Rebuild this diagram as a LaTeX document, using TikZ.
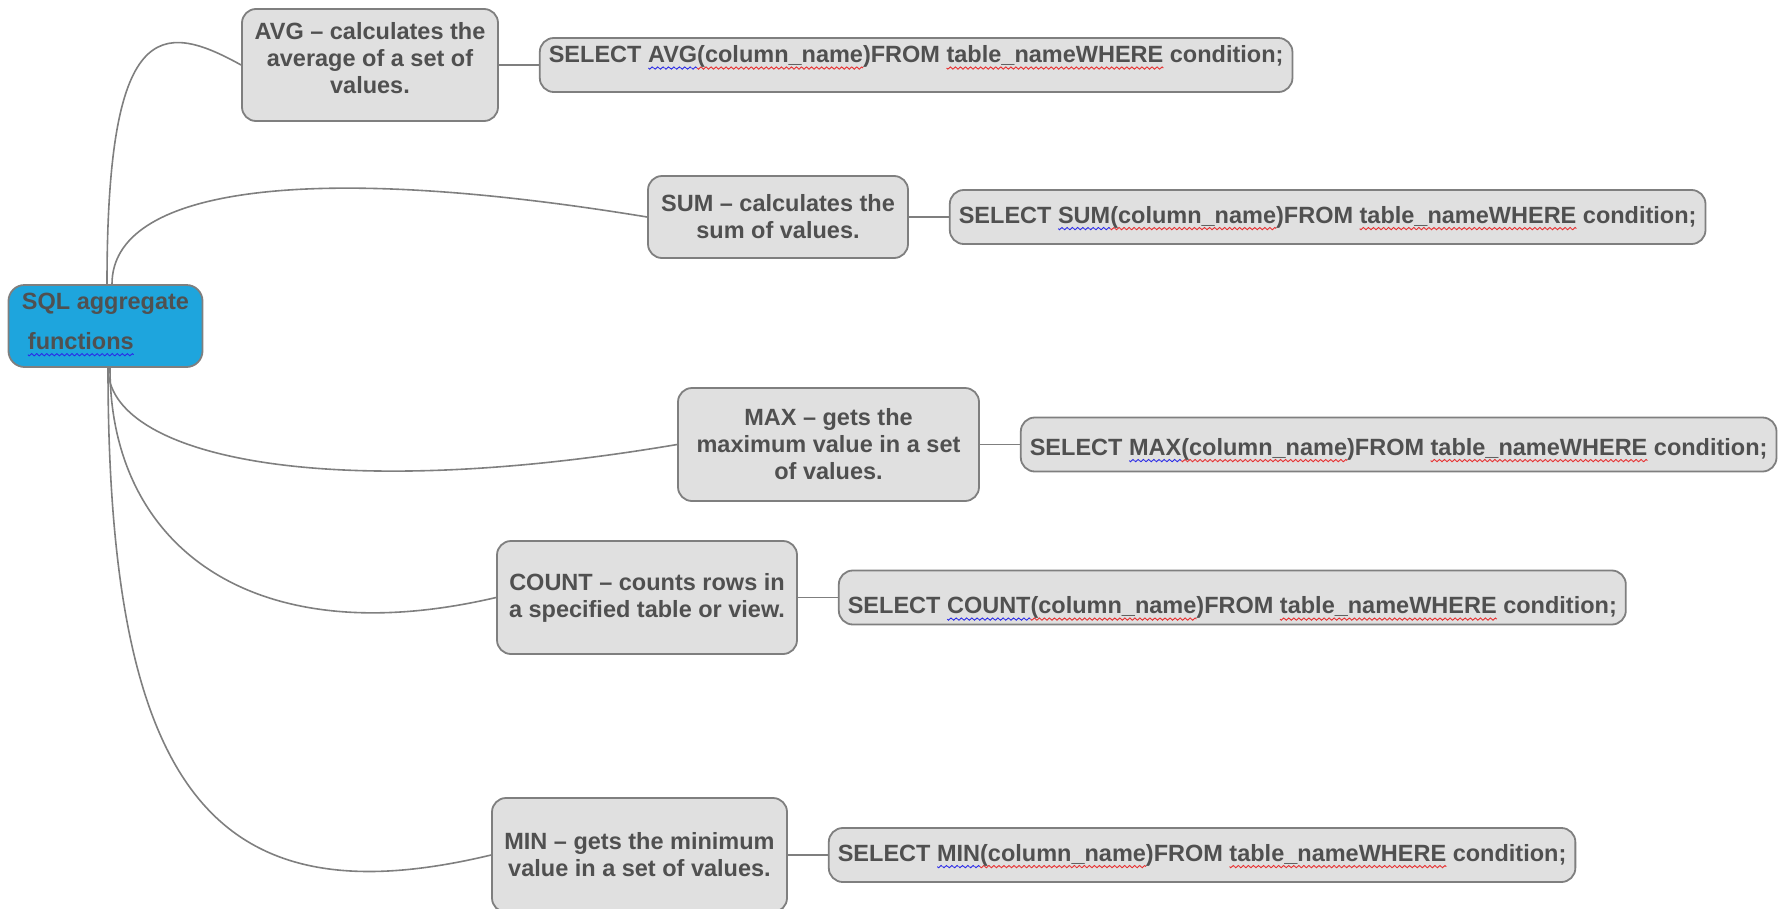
\documentclass[tikz,border=0pt]{standalone}
\usepackage{fontspec}
\setmainfont{Liberation Sans}
\usepackage{xcolor}
\usepackage{tikz}
\usetikzlibrary{positioning}

\definecolor{rootblue}{HTML}{1EA5DD}
\definecolor{boxgray}{HTML}{E0E0E0}
\definecolor{edgegray}{HTML}{7F7F7F}
\definecolor{inkgray}{HTML}{505050}

% wavy underline under a word (one wave drawn per leader box)
\newsavebox\wordbox
\newcommand\wavy[2]{\sbox\wordbox{#2}\rlap{\hbox to \wd\wordbox{\xleaders\hbox to 5bp{%
\special{pdf:literal q 0.9 w #1 RG 0 -5.5 m 1.25 -7 1.25 -7 2.5 -5.5 c
3.75 -4 3.75 -4 5 -5.5 c S Q}\hfil}\hfill}}\usebox\wordbox}
\newcommand\bwave[1]{\wavy{0.17 0.17 0.91}{#1}}
\newcommand\rwave[1]{\wavy{0.91 0.19 0.19}{#1}}

\begin{document}
\begin{tikzpicture}[x=1pt,y=-1pt,
topic/.style={draw=edgegray, line width=1.8pt, fill=rootblue, rounded corners=16pt,
align=left, text=inkgray, font=\fontsize{23.5}{27}\selectfont\bfseries},
    func/.style={draw=edgegray, line width=1.8pt, fill=boxgray, rounded corners=14pt,
align=center, text=inkgray, font=\fontsize{23.5}{27}\selectfont\bfseries},
    query/.style={func, align=left, minimum height=54pt, inner xsep=9pt,
node distance=40pt},
    branch/.style={draw=edgegray, line width=1.6pt}]
\useasboundingbox (0,0) rectangle (1780,908);
\node[topic, minimum width=194pt, minimum height=82pt] (root) at (105.5,326)
{SQL aggregate\\[13pt]\hspace*{6pt}\bwave{functions}\\[-17pt]\mbox{}};
\node[func, minimum width=256pt, minimum height=112pt] (avg) at (370,65)
{AVG – calculates the\\average of a set of\\values.\\[-12pt]\mbox{}};
\node[func, minimum width=260pt, minimum height=82pt] (sum) at (778,217)
{SUM – calculates the\\sum of values.};
\node[func, minimum width=301pt, minimum height=113pt] (max) at (828.5,444.5)
{MAX – gets the\\maximum value in a set\\of values.};
\node[func, minimum width=300pt, minimum height=113pt] (count) at (647,597.5)
{COUNT – counts rows in\\a specified table or view.};
\node[func, minimum width=295pt, minimum height=114pt] (min) at (639.5,855)
{MIN – gets the minimum\\value in a set of values.};
\node[query, text depth=22pt] (avgsql) [right=of avg]
{SELECT \bwave{AVG}\rwave{(column\_name})FROM \rwave{table\_nameWHERE} condition;};
\node[query] (sumsql) [right=of sum]
{SELECT \bwave{SUM}\rwave{(column\_name})FROM \rwave{table\_nameWHERE} condition;};
\node[query, inner ysep=0pt, text height=26pt] (maxsql) [right=of max]
{SELECT \bwave{MAX}\rwave{(column\_name})FROM \rwave{table\_nameWHERE} condition;};
\node[query, inner ysep=0pt, text height=37pt] (countsql) [right=of count]
{SELECT \bwave{COUNT}\rwave{(column\_name})FROM \rwave{table\_nameWHERE} condition;};
\node[query] (minsql) [right=of min]
{SELECT \bwave{MIN}\rwave{(column\_name})FROM \rwave{table\_nameWHERE} condition;};

\draw[branch] ([xshift=1.5pt]root.north) .. controls (107,20) and (160,20) .. (avg.west);
\draw[branch] ([xshift=6.5pt]root.north) .. controls (112,190) and (300,160) .. (sum.west);
\draw[branch] ([xshift=2.5pt]root.south) .. controls (108,455) and (320,505) .. (max.west);
\draw[branch] ([xshift=4.5pt]root.south) .. controls (110,545) and (250,655) .. (count.west);
\draw[branch] ([xshift=2.5pt]root.south) .. controls (108,800) and (220,920) .. (min.west);
\draw[branch] (avg.east) -- (avgsql.west);
\draw[branch] (sum.east) -- (sumsql.west);
\draw[branch] (max.east) -- (maxsql.west);
\draw[branch] (count.east) -- (countsql.west);
\draw[branch] (min.east) -- (minsql.west);
\end{tikzpicture}
\end{document}
